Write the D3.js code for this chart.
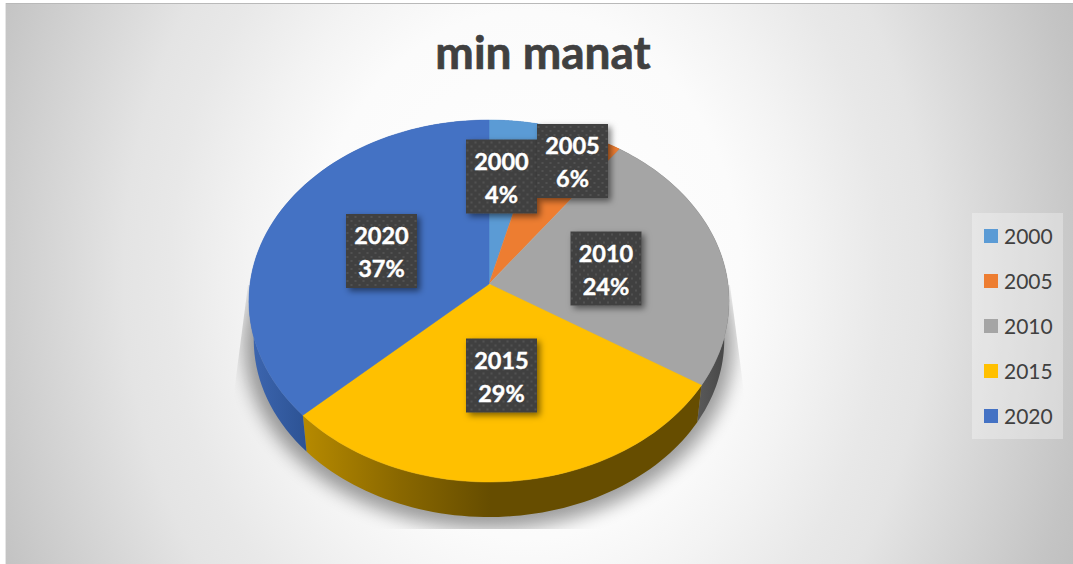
<!DOCTYPE html>
<html><head><meta charset="utf-8">
<script src="https://cdn.jsdelivr.net/npm/d3@7"></script>
<style>html,body{margin:0;padding:0;background:#fff}svg{display:block}text{font-family:Lato,"Open Sans",sans-serif}</style>
</head><body><div id="chart"></div>
<script>
const years = ["2000","2005","2010","2015","2020"];
const shares = [4,6,24,29,37];
const chartTitle = "min manat";
const sliceColors = ["#5B9BD5","#ED7D31","#A5A5A5","#FFC000","#4472C4"];
const sideStops = [
  [["0","#3f6ab8"],["1","#3f6ab8"]],
  [["0","#a0521c"],["1","#a0521c"]],
  [["0","#5e5e5e"],["1","#444"]],
  [["0","#b58900"],["0.5","#8a6800"],["1","#664d00"]],
  [["0","#3d66b0"],["1","#2b5192"]]
];
const labelCenters = [[501.5,176.5],[572.5,161],[606,268.5],[501.5,375.5],[381.5,251]];

const W=1073,H=564;
const svg=d3.select("#chart").append("svg").attr("width",W).attr("height",H);
const defs=svg.append("defs");

// background
const bg=defs.append("radialGradient").attr("id","bg").attr("gradientUnits","userSpaceOnUse")
  .attr("cx",0).attr("cy",0).attr("r",1)
  .attr("gradientTransform","translate(527,275) scale(650,800)");
[[0,"#fff"],[.33,"#fbfbfb"],[.43,"#f3f3f3"],[.55,"#e8e8e8"],[.62,"#e4e4e4"],[.8,"#cdcdcd"],[.87,"#c4c4c4"],[1,"#b8b8b8"]]
  .forEach(s=>bg.append("stop").attr("offset",s[0]).attr("stop-color",s[1]));
svg.append("rect").attr("x",5).attr("y",3).attr("width",W).attr("height",H).attr("fill","url(#bg)");
svg.append("line").attr("x1",5).attr("x2",W).attr("y1",3.5).attr("y2",3.5).attr("stroke","#b9b9b9");
svg.append("line").attr("x1",5.5).attr("x2",5.5).attr("y1",3).attr("y2",H).attr("stroke","#e6e6e6");

// projection of the pie's disc
const cx=489, cyTop=284, cyBot=323, B=239, A=179.4, k=0.0939, bs=0.98;
const project=(a,r,y0,s)=>{
  const u=Math.sin(a)*r, v=-Math.cos(a)*r, w=1-k*v;
  return [cx+s*B*u/w, y0+s*A*v/w];
};
const line=d3.line();
const pie=d3.pie().sort(null).value(d=>d)(shares);
const arcSamples=(a0,a1)=>d3.range(0,65).map(i=>a0+(a1-a0)*i/64);

// shadow
defs.append("filter").attr("id","blur").attr("x","-20%").attr("y","-20%").attr("width","140%").attr("height","140%")
  .append("feGaussianBlur").attr("stdDeviation",9);
defs.append("clipPath").attr("id","shadowClip").append("polygon")
  .attr("points","248,285 233,400 233,529 745,529 745,400 730,285");
svg.append("g").attr("clip-path","url(#shadowClip)")
  .append("path").attr("filter","url(#blur)").attr("fill","#000").attr("opacity",.38)
  .attr("d",line(arcSamples(0,2*Math.PI).map(a=>project(a,1,cyBot+4,1.02)))+"Z");

// sides
pie.forEach((d,i)=>{
  const g=defs.append("linearGradient").attr("id","side"+i).attr("gradientUnits","userSpaceOnUse")
    .attr("x1",i===4?250:i===3?306:i===2?690:490).attr("x2",i===4?310:i===3?490:i===2?730:620).attr("y1",0).attr("y2",0);
  sideStops[i].forEach(s=>g.append("stop").attr("offset",s[0]).attr("stop-color",s[1]));
});
svg.append("g").selectAll("path").data(pie).join("path")
  .attr("fill",(d,i)=>`url(#side${i})`)
  .attr("d",d=>{
    const as=arcSamples(d.startAngle,d.endAngle);
    return line(as.map(a=>project(a,1,cyTop,1)).concat(as.slice().reverse().map(a=>project(a,1,cyBot,bs))))+"Z";
  });

// top faces
svg.append("g").selectAll("path").data(pie).join("path")
  .attr("fill",(d,i)=>sliceColors[i]).attr("stroke",(d,i)=>sliceColors[i]).attr("stroke-width",.5)
  .attr("d",d=>line([[cx,cyTop]].concat(arcSamples(d.startAngle,d.endAngle).map(a=>project(a,1,cyTop,1))))+"Z");

// title
svg.append("text").attr("x",543).attr("y",69).attr("text-anchor","middle")
  .attr("font-size",46).attr("font-weight",700).attr("fill","#404040")
  .attr("stroke","#404040").attr("stroke-width",.7).text(chartTitle);

// data labels
const pat=defs.append("pattern").attr("id","dots").attr("patternUnits","userSpaceOnUse").attr("width",8).attr("height",8);
pat.append("rect").attr("width",8).attr("height",8).attr("fill","#404040");
[[2,2],[6,6]].forEach(p=>pat.append("circle").attr("cx",p[0]).attr("cy",p[1]).attr("r",1).attr("fill","#565656"));
const ds=defs.append("filter").attr("id","ds").attr("x","-20%").attr("y","-20%").attr("width","150%").attr("height","150%");
ds.append("feDropShadow").attr("dx",3).attr("dy",3).attr("stdDeviation",3).attr("flood-color","#000").attr("flood-opacity",.5);
const boxW=71, boxH=74;
const lab=svg.append("g").selectAll("g").data(pie).join("g")
  .attr("transform",(d,i)=>`translate(${labelCenters[i][0]},${labelCenters[i][1]})`);
lab.append("rect").attr("x",-boxW/2).attr("y",-boxH/2).attr("width",boxW).attr("height",boxH)
  .attr("fill","url(#dots)").attr("filter","url(#ds)");
lab.append("text").attr("text-anchor","middle").attr("y",-7).attr("font-size",23.5).attr("font-weight",700).attr("fill","#fff")
  .attr("stroke","#fff").attr("stroke-width",.4).text((d,i)=>years[i]);
lab.append("text").attr("text-anchor","middle").attr("y",26).attr("font-size",23.5).attr("font-weight",700).attr("fill","#fff")
  .attr("stroke","#fff").attr("stroke-width",.4).text(d=>d.value+"%");

// legend
const legY=d3.scalePoint().domain(years).range([236,416]);
svg.append("rect").attr("x",972).attr("y",213).attr("width",91).attr("height",226).attr("fill","#fff").attr("fill-opacity",.3);
const leg=svg.append("g").selectAll("g").data(years).join("g").attr("transform",d=>`translate(984,${legY(d)})`);
leg.append("rect").attr("y",-7).attr("width",14).attr("height",14).attr("fill",(d,i)=>sliceColors[i]);
leg.append("text").attr("x",20).attr("y",7.5).attr("font-size",21).attr("fill","#404040").text(d=>d);
</script></body></html>
